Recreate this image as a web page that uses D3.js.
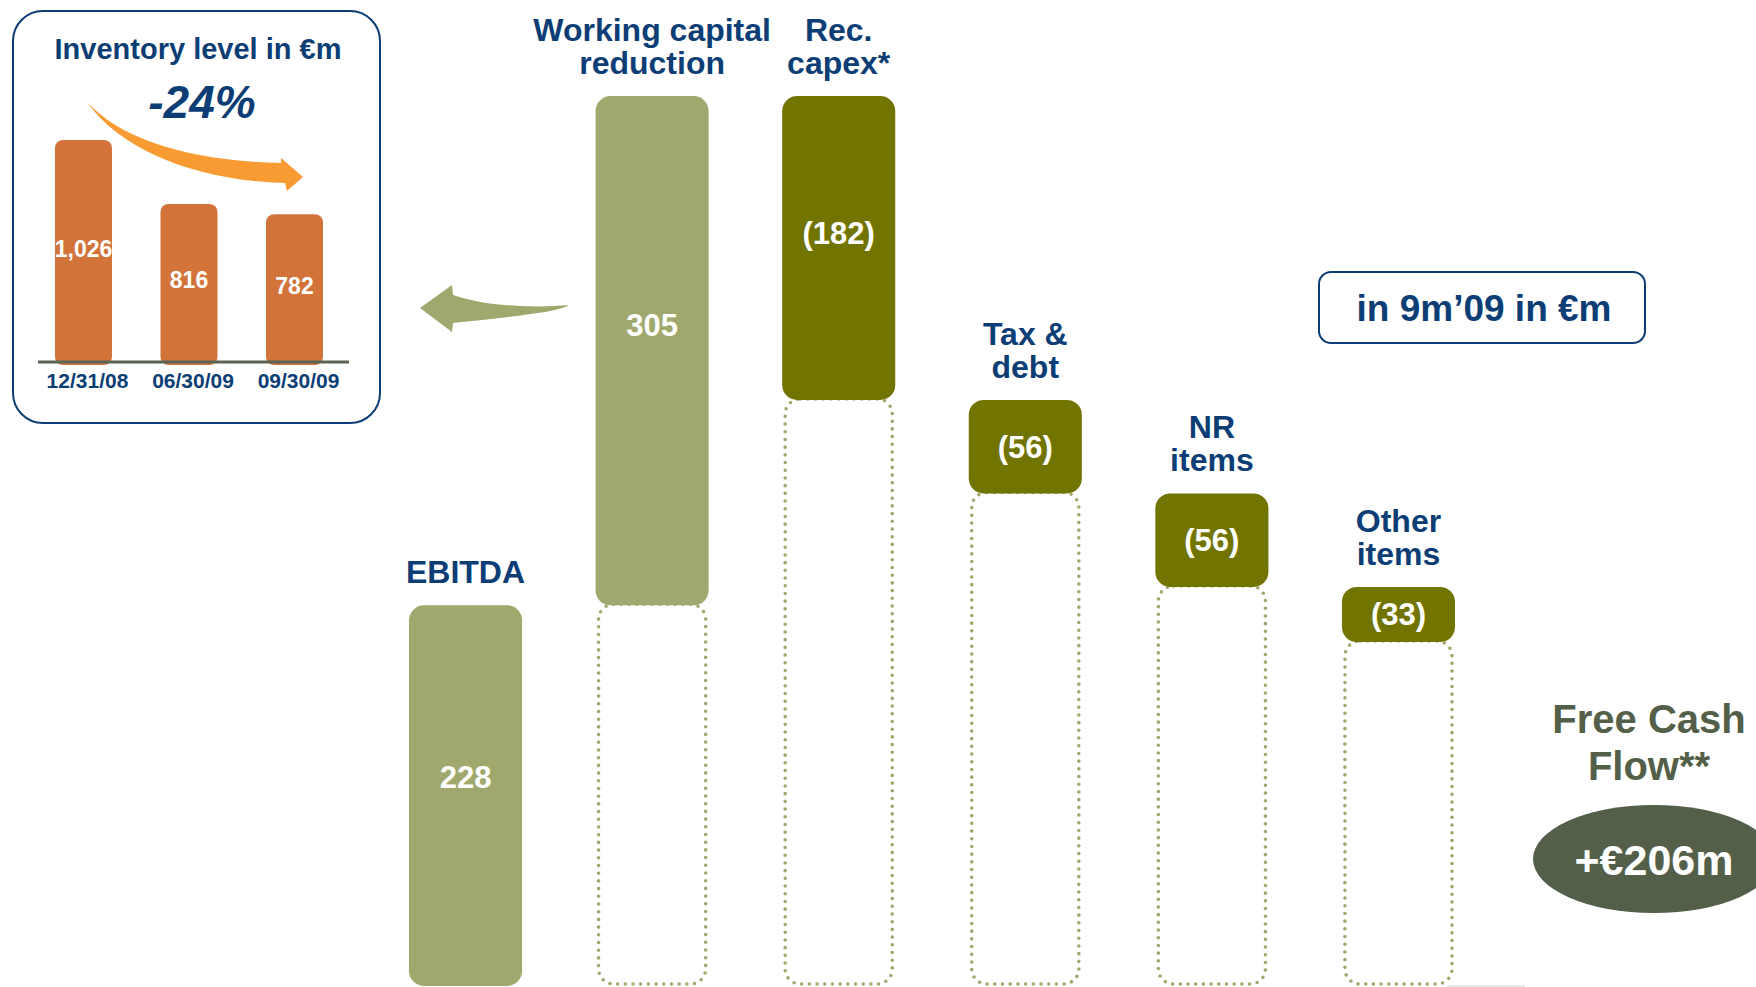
<!DOCTYPE html>
<html>
<head>
<meta charset="utf-8">
<script src="https://cdn.jsdelivr.net/npm/d3@7"></script>
<style>
  html, body { margin: 0; padding: 0; background: #ffffff; }
  svg { display: block; }
  text { font-family: "Liberation Sans", Arial, sans-serif; font-weight: bold; }
</style>
</head>
<body>
<script>
// ---------- data ----------
const steps = ["EBITDA", "Working capital reduction", "Rec. capex*", "Tax & debt", "NR items", "Other items"];
const stepLines = [["EBITDA"], ["Working capital", "reduction"], ["Rec.", "capex*"], ["Tax &", "debt"], ["NR", "items"], ["Other", "items"]];
const stepValues = [228, 305, -182, -56, -56, -33];
const stepLabels = ["228", "305", "(182)", "(56)", "(56)", "(33)"];
const fcfTitle = ["Free Cash", "Flow**"];
const unitNote = "in 9m\u201909 in \u20acm";

const invTitle = "Inventory level in \u20acm";
const invChange = "-24%";
const invDates = ["12/31/08", "06/30/09", "09/30/09"];
const invValues = [1026, 816, 782];
const invLabels = ["1,026", "816", "782"];

// ---------- setup ----------
const W = 1756, H = 987;
const BLUE = "#0c3e75", LIGHT = "#a0a86e", DARK = "#727400", FCF = "#535f48";
const ORANGE = "#d2733a", ORANGE_ARROW = "#f99b33";

const svg = d3.select("body").append("svg").attr("width", W).attr("height", H);

// ---------- waterfall ----------
let run = 0;
const wf = stepValues.map((v, i) => {
  const start = run; run += v;
  return { name: steps[i], lines: stepLines[i], value: v, label: stepLabels[i], start, end: run, i };
});
const fcfValue = run;
const topValue = d3.max(wf, d => Math.max(d.start, d.end));

const x = d3.scaleBand().domain(steps).range([409, 1455]).paddingInner(0.394).paddingOuter(0);
const y = d3.scaleLinear().domain([0, topValue]).range([986, 96]);
const bw = x.bandwidth();

const g = svg.append("g");

// dotted ghost boxes
g.selectAll("rect.ghost").data(wf.filter(d => d.i > 0)).join("rect")
  .attr("class", "ghost")
  .attr("x", d => x(d.name) + 3)
  .attr("width", bw - 6)
  .attr("y", d => y(Math.min(d.start, d.end)) - 1)
  .attr("height", d => y(0) - 1 - y(Math.min(d.start, d.end)))
  .attr("rx", 15).attr("ry", 15)
  .attr("fill", "none")
  .attr("stroke", LIGHT)
  .attr("stroke-width", 3.6)
  .attr("stroke-linecap", "round")
  .attr("stroke-dasharray", "0 7.7");

// bars
g.selectAll("rect.bar").data(wf).join("rect")
  .attr("class", "bar")
  .attr("x", d => x(d.name))
  .attr("width", bw)
  .attr("y", d => y(Math.max(d.start, d.end)))
  .attr("height", d => Math.abs(y(d.start) - y(d.end)))
  .attr("rx", 15).attr("ry", 15)
  .attr("fill", d => d.value >= 0 ? LIGHT : DARK);

// value labels
g.selectAll("text.val").data(wf).join("text")
  .attr("class", "val")
  .attr("x", d => x(d.name) + bw / 2)
  .attr("y", d => {
    const t = y(Math.max(d.start, d.end)), h = Math.abs(y(d.start) - y(d.end));
    return t + h * (h > 200 ? 0.45 : 0.5) + 11;
  })
  .attr("text-anchor", "middle")
  .attr("fill", "#ffffff")
  .attr("font-size", 31)
  .text(d => d.label);

// category labels
const catG = g.selectAll("text.cat").data(wf).join("text")
  .attr("class", "cat")
  .attr("text-anchor", "middle")
  .attr("fill", BLUE)
  .attr("font-size", 32);
catG.each(function(d) {
  const top = y(Math.max(d.start, d.end));
  const n = d.lines.length;
  d3.select(this).selectAll("tspan").data(d.lines).join("tspan")
    .attr("x", x(d.name) + bw / 2)
    .attr("y", (l, k) => top - 22 - (n - 1 - k) * 33)
    .text(l => l);
});

// faint baseline stub
svg.append("line").attr("x1", 1447).attr("x2", 1525).attr("y1", 986).attr("y2", 986)
  .attr("stroke", "#d4d4d4").attr("stroke-width", 1);

// ---------- free cash flow ----------
svg.append("text").attr("text-anchor", "middle").attr("fill", FCF).attr("font-size", 40)
  .selectAll("tspan").data(fcfTitle).join("tspan")
  .attr("x", 1649).attr("y", (d, k) => 733 + k * 47).text(d => d);
svg.append("ellipse").attr("cx", 1654).attr("cy", 859).attr("rx", 121).attr("ry", 54).attr("fill", FCF);
svg.append("text").attr("x", 1654).attr("y", 875).attr("text-anchor", "middle")
  .attr("fill", "#ffffff").attr("font-size", 43)
  .text("+\u20ac" + fcfValue + "m");

// ---------- unit note box ----------
svg.append("rect").attr("x", 1319).attr("y", 272).attr("width", 326).attr("height", 71)
  .attr("rx", 12).attr("fill", "#fff").attr("stroke", BLUE).attr("stroke-width", 2);
svg.append("text").attr("x", 1484).attr("y", 321).attr("text-anchor", "middle")
  .attr("fill", BLUE).attr("font-size", 37).text(unitNote);

// ---------- green arrow pointing to inventory panel ----------
svg.append("path")
  .attr("d", "M420,308 L452,285 L453,295 C472,301 492,305 520,306 C540,307 556,306 569,305 C560,311 530,315 453,323 L452,332 Z")
  .attr("fill", LIGHT);

// ---------- inventory panel ----------
const p = svg.append("g");
p.append("rect").attr("x", 13).attr("y", 11).attr("width", 367).attr("height", 412)
  .attr("rx", 30).attr("fill", "#fff").attr("stroke", BLUE).attr("stroke-width", 2);
p.append("text").attr("x", 198).attr("y", 59).attr("text-anchor", "middle")
  .attr("fill", BLUE).attr("font-size", 29).text(invTitle);

const ix = d3.scaleBand().domain(invDates).range([55, 323]).paddingInner(0.46).paddingOuter(0);
const iy = d3.scaleLinear().domain([300, 1026]).range([361, 140]);
const ibw = ix.bandwidth();

p.selectAll("rect.inv").data(invValues).join("rect")
  .attr("class", "inv")
  .attr("x", (d, i) => ix(invDates[i]))
  .attr("width", ibw)
  .attr("y", d => iy(d))
  .attr("height", d => iy.range()[0] - iy(d) + 4)
  .attr("rx", 8).attr("fill", ORANGE);

// axis line + date labels
const axis = d3.axisBottom(ix).tickSize(0).tickPadding(0);
const ax = p.append("g").attr("transform", "translate(4,388)").call(axis);
ax.select(".domain").remove();
ax.selectAll("text").attr("dy", 0).attr("y", 0)
  .attr("fill", BLUE).attr("font-size", 21)
  .attr("font-family", "'Liberation Sans', Arial, sans-serif").attr("font-weight", "bold");
p.append("line").attr("x1", 38).attr("x2", 349).attr("y1", 362).attr("y2", 362)
  .attr("stroke", "#5b6452").attr("stroke-width", 3);

p.selectAll("text.invval").data(invValues).join("text")
  .attr("class", "invval")
  .attr("x", (d, i) => ix(invDates[i]) + ibw / 2)
  .attr("y", d => (iy(d) + iy.range()[0]) / 2 + 6)
  .attr("text-anchor", "middle")
  .attr("fill", "#ffffff").attr("font-size", 23)
  .text((d, i) => invLabels[i]);

// orange curved arrow
p.append("path")
  .attr("d", "M87,102 C122,140 190,161 281,163 L281,158 L303,177 L287,191 L285,183 C200,181 122,152 87,102 Z")
  .attr("fill", ORANGE_ARROW);

p.append("text").attr("x", 202).attr("y", 118).attr("text-anchor", "middle")
  .attr("fill", BLUE).attr("font-size", 46).attr("font-style", "italic").text(invChange);
</script>
</body>
</html>
